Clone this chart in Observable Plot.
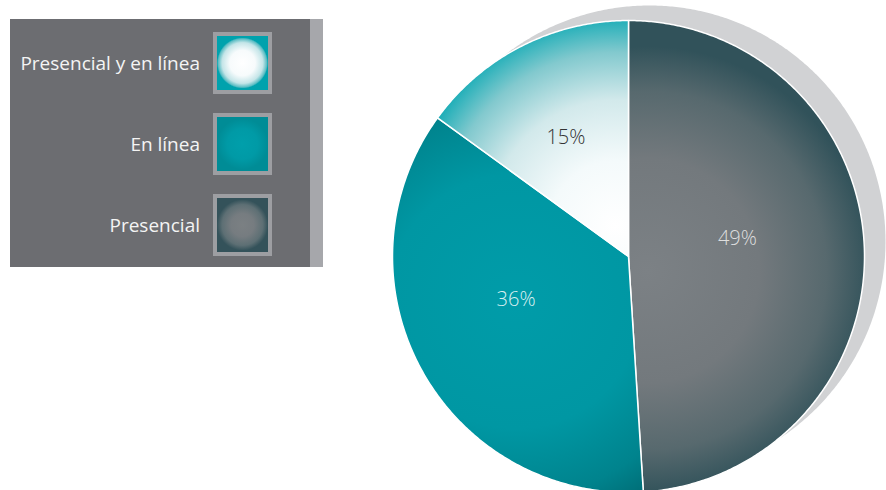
<!DOCTYPE html>
<html>
<head>
<meta charset="utf-8">
<script src="https://cdn.jsdelivr.net/npm/d3@7"></script>
<script src="https://cdn.jsdelivr.net/npm/@observablehq/plot@0.6"></script>
<style>
  html, body { margin: 0; padding: 0; background: #ffffff; }
  #wrap { position: relative; width: 886px; height: 490px; overflow: hidden; font-family: "Open Sans", "Noto Sans", sans-serif; }
  #chart { position: absolute; left: 0; top: 0; }
  #legend { position: absolute; left: 10px; top: 19px; width: 300px; height: 248px; background: #6c6d71; }
  #legend .strip { position: absolute; left: 300px; top: 0; width: 13px; height: 248px; background: #a6a7ab; }
  #legend .item { position: absolute; left: 0; width: 300px; height: 62px; }
  #legend .lab { position: absolute; right: 110px; top: 0; height: 62px; line-height: 62px; font-size: 19px; color: #f4f4f4; white-space: nowrap; }
  #legend .sw { position: absolute; left: 203px; top: 0; width: 51px; height: 54px; border: 4px solid #9d9ea2; }
</style>
</head>
<body>
<div id="wrap">
  <div id="chart"></div>
  <div id="legend"><div class="strip"></div></div>
  <svg id="defs" width="0" height="0" style="position:absolute"></svg>
</div>
<script>
// ---- data ----
const categories = ["Presencial", "En línea", "Presencial y en línea"];
const values = [49, 36, 15];
const valueLabels = ["49%", "36%", "15%"];
const legendOrder = ["Presencial y en línea", "En línea", "Presencial"];
const labelColors = ["#dedede", "#d8eff1", "#333333"];
const gradientStops = [
  [[0, "#7c8185"], [0.5, "#73797d"], [0.8, "#57696e"], [1, "#31525a"]],
  [[0, "#009ca9"], [0.55, "#0097a3"], [0.85, "#00838d"], [1, "#006d76"]],
  [[0, "#ffffff"], [0.3, "#f4fafb"], [0.58, "#d2e9eb"], [0.8, "#82c9ce"], [1, "#00a6b1"]]
];
const legendSwatches = [
  "radial-gradient(circle closest-side, #ffffff 0%, #f7fbfc 50%, #c4e5e8 80%, #5bbdc4 95%, #00a2ad 100%)",
  "radial-gradient(circle closest-side, #009fab 0%, #009aa6 60%, #008c96 100%)",
  "radial-gradient(circle closest-side, #7b8083 0%, #767c80 45%, #5d6f74 80%, #34525a 100%)"
];

const data = categories.map((c, i) => ({category: c, value: values[i], label: valueLabels[i]}));
const arcs = d3.pie().sort(null).value(d => d.value)(data);

// polygon points for each slice (unit circle, angles clockwise from top)
const slicePts = arcs.map(a => {
  const pts = [{x: 0, y: 0}];
  const n = Math.max(2, Math.ceil((a.endAngle - a.startAngle) / (Math.PI / 360)));
  for (let k = 0; k <= n; k++) {
    const t = a.startAngle + (a.endAngle - a.startAngle) * k / n;
    pts.push({x: Math.sin(t), y: Math.cos(t)});
  }
  pts.push({x: 0, y: 0});
  return pts;
});
const circlePts = d3.range(0, 721).map(k => ({x: Math.sin(k * Math.PI / 360), y: Math.cos(k * Math.PI / 360)}));
const labelPts = arcs.map(a => {
  const m = (a.startAngle + a.endAngle) / 2;
  return {x: 0.5 * Math.sin(m), y: 0.5 * Math.cos(m), label: a.data.label, i: a.index};
});

const chart = Plot.plot({
  width: 886,
  height: 490,
  margin: 0,
  x: {domain: [-1, 1], range: [392, 864], axis: null},
  y: {domain: [-1, 1], range: [492, 20], axis: null},
  style: {background: "transparent", overflow: "visible"},
  marks: [
    Plot.line(circlePts, {x: "x", y: "y", fill: "#d1d2d4", stroke: "none", dx: 21, dy: -15}),
    ...slicePts.map((pts, i) => Plot.line(pts, {
      x: "x", y: "y", fill: `url(#slice-grad-${i})`, stroke: "#ffffff", strokeWidth: 1.5, strokeLinejoin: "round"
    })),
    ...labelPts.map((p, i) => Plot.text([p], {
      x: "x", y: "y", text: "label", dx: -9, dy: -14,
      fill: labelColors[i],
      fontSize: 20, fontWeight: 300, fontFamily: "Open Sans, Noto Sans, sans-serif"
    }))
  ]
});
document.getElementById("chart").appendChild(chart);

// gradients positioned through the chart's scales
const sx = chart.scale("x"), sy = chart.scale("y");
const gradCenters = [[0.08, -0.06, 0.95], [-0.48, -0.19, 0.98], [-0.055, 0.13, 0.92]];
const defs = d3.select("#defs").append("defs");
gradCenters.forEach(([cx, cy, r], i) => {
  const g = defs.append("radialGradient")
    .attr("id", `slice-grad-${i}`)
    .attr("gradientUnits", "userSpaceOnUse")
    .attr("cx", sx.apply(cx)).attr("cy", sy.apply(cy))
    .attr("r", sx.apply(r) - sx.apply(0));
  gradientStops[i].forEach(([o, c]) => g.append("stop").attr("offset", o).attr("stop-color", c));
});

// legend
const legend = d3.select("#legend");
const legendTops = [13, 94, 175];
legendOrder.forEach((name, j) => {
  const item = legend.append("div").attr("class", "item").style("top", legendTops[j] + "px");
  item.append("div").attr("class", "lab").text(name);
  item.append("div").attr("class", "sw").style("background", legendSwatches[j]);
});
</script>
</body>
</html>
